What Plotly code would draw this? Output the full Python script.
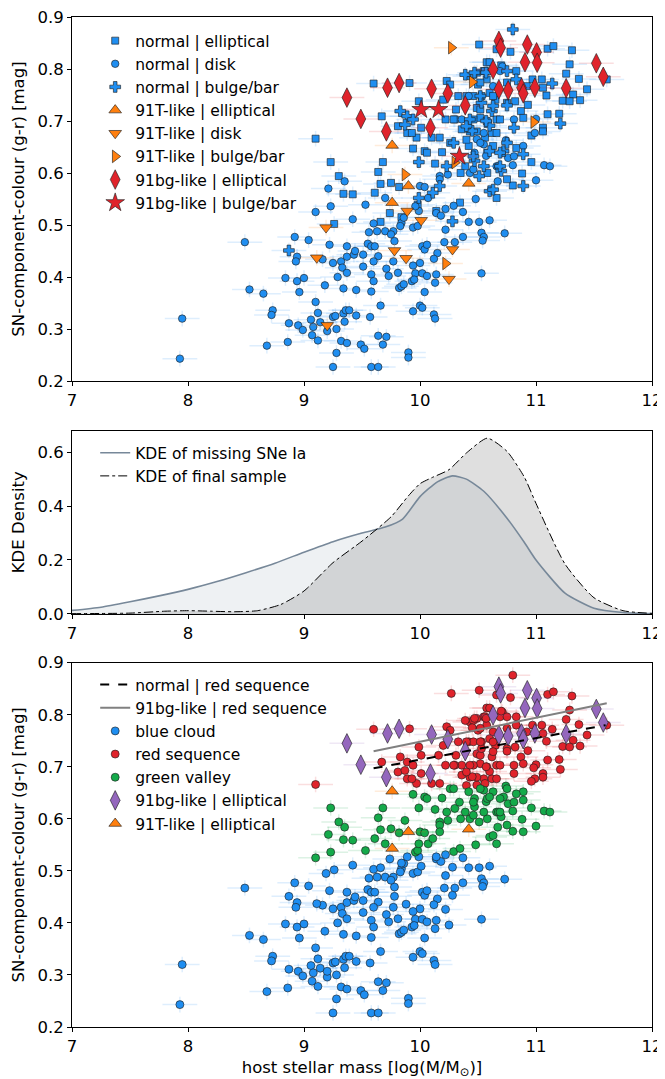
import plotly.graph_objects as go

# ---------------- data ----------------
# normal | elliptical  (class code for lower panel: R=red sequence, G=green valley, B=blue cloud)
ne_x = [9.34, 9.42, 9.61, 9.74, 9.66, 9.26, 9.66, 9.75, 9.98, 9.84, 10.14, 10.345, 10.66,
        10.51, 9.60, 9.91, 9.67, 10.23, 10.26, 10.33, 9.99, 10.20, 10.31, 10.49, 10.575, 10.66, 10.43, 10.49,
        10.55, 10.50, 10.575, 10.60, 10.53, 10.65, 10.46, 10.30, 10.22, 10.36, 9.94, 10.04, 10.19, 9.81, 9.89,
        9.97, 10.10, 10.17, 9.68, 9.23, 9.30, 9.64, 9.82, 10.06, 10.13, 10.39, 10.26, 10.42, 10.49, 10.56,
        10.62, 10.66, 10.52, 10.575, 9.93, 10.01, 9.10,
        10.78, 11.10, 11.15, 11.31, 11.29, 11.26, 11.37, 11.44, 11.61, 11.32, 11.23, 11.29, 11.38, 11.06,
        11.09, 10.97, 11.05, 10.83, 10.92, 10.82, 10.93, 10.87, 11.10, 11.20, 10.89, 11.06, 11.06, 10.96,
        10.83, 10.96, 10.88, 10.80, 10.75,
        10.29, 10.46, 10.69, 10.43, 10.66, 10.40, 10.63, 10.58, 10.52, 10.75, 10.56, 10.52, 10.75, 10.40,
        10.63, 10.58, 10.35, 10.60, 10.70, 10.46]
ne_y = [0.560, 0.559, 0.562, 0.523, 0.506, 0.502, 0.579, 0.581, 0.539, 0.515, 0.527, 0.543, 0.552,
        0.847, 0.772, 0.773, 0.709, 0.777, 0.770, 0.748, 0.738, 0.741, 0.722, 0.725, 0.813, 0.838, 0.786, 0.793,
        0.796, 0.770, 0.780, 0.754, 0.748, 0.741, 0.748, 0.703, 0.703, 0.684, 0.647, 0.642, 0.640, 0.690, 0.677,
        0.668, 0.668, 0.668, 0.621, 0.621, 0.594, 0.602, 0.573, 0.639, 0.618, 0.613, 0.658, 0.652, 0.680, 0.668,
        0.677, 0.703, 0.706, 0.700, 0.677, 0.687, 0.666,
        0.833, 0.839, 0.844, 0.836, 0.809, 0.791, 0.781, 0.761, 0.780, 0.751, 0.739, 0.738, 0.740, 0.764,
        0.749, 0.780, 0.780, 0.796, 0.767, 0.738, 0.731, 0.719, 0.713, 0.714, 0.706, 0.687, 0.680, 0.672,
        0.648, 0.621, 0.599, 0.576, 0.588,
        0.703, 0.703, 0.703, 0.680, 0.677, 0.664, 0.652, 0.639, 0.722, 0.735, 0.796, 0.774, 0.774, 0.748,
        0.748, 0.600, 0.600, 0.813, 0.807, 0.789]
ne_c = ("GGGBBBGGGBBGG" + "RRRRRRRRRRRRRRRRRRRRRRRRR" + "GGG" + "RRRRR" + "GGGGGGGGGG" + "RRRRRRRRR"
        + "RRRRRRRRRRRRRRRRRRRRRRRRRRRR" + "GGGGG" + "RRRRRRGGRRRRRRRGGRRR")

# normal | disk
nd_x = [8.49, 8.92, 9.04, 9.21, 9.35, 9.23, 9.10, 8.94, 8.93, 9.16, 9.22, 9.25, 9.32, 9.37, 9.37, 9.43,
        9.44, 9.51, 9.55, 9.58, 9.61, 9.64, 9.60, 9.33, 9.37, 9.29, 9.51, 9.58, 9.60, 9.71, 9.73, 9.81, 8.84,
        8.94, 9.00, 8.96, 9.18, 9.34, 9.45, 9.58, 8.53, 8.65, 9.10, 9.66, 8.73, 8.72, 9.12, 9.34, 9.36, 9.39,
        9.45, 9.57, 9.06, 9.25, 9.27, 9.35, 8.87, 8.95, 9.08, 9.14, 9.20, 9.28, 8.99, 9.07, 9.12, 9.32, 9.37,
        9.49, 9.52, 9.64, 9.71, 9.68, 8.86, 8.68, 9.28, 9.25, 9.58, 9.64, 7.95, 7.93, 9.77, 9.78, 9.77, 9.82,
        9.70, 9.75, 9.70, 9.56, 9.63, 9.60, 9.53, 9.42,
        9.84, 9.83, 9.86, 9.94, 9.98, 9.99, 9.96, 10.0, 10.04, 10.07, 10.14, 10.18, 10.22, 10.22, 10.29,
        10.37, 10.37, 10.42, 10.51, 10.60, 10.53, 10.55, 10.54, 10.21, 10.30, 10.02, 10.04, 10.06, 10.15,
        10.12, 10.0, 9.94, 9.96, 10.02, 10.06, 10.14, 10.13, 9.93, 9.95, 9.84, 9.86, 10.04, 10.53, 10.0,
        10.02, 9.94, 10.12, 10.13, 9.90, 9.90, 10.48,
        10.42, 10.36, 10.49, 10.55, 10.47, 10.57, 10.66, 10.43, 10.24, 10.17, 11.0, 10.99, 10.89, 10.74,
        10.80, 10.675, 11.07, 11.12, 11.0, 10.67, 10.71, 10.76, 10.73, 10.55, 10.81, 10.52, 10.81, 10.63,
        10.46, 10.17, 10.69]
nd_y = [0.467, 0.477, 0.471, 0.570, 0.584, 0.536, 0.525, 0.439, 0.430, 0.434, 0.462, 0.427, 0.430, 0.459,
        0.439, 0.443, 0.450, 0.443, 0.464, 0.459, 0.459, 0.440, 0.430, 0.418, 0.408, 0.400, 0.420, 0.405,
        0.392, 0.416, 0.402, 0.408, 0.398, 0.392, 0.398, 0.371, 0.384, 0.378, 0.375, 0.372, 0.376, 0.368,
        0.352, 0.345, 0.336, 0.327, 0.331, 0.330, 0.336, 0.336, 0.326, 0.323, 0.318, 0.323, 0.325, 0.314,
        0.311, 0.307, 0.304, 0.313, 0.296, 0.300, 0.298, 0.288, 0.278, 0.277, 0.273, 0.270, 0.262, 0.287,
        0.285, 0.270, 0.275, 0.268, 0.254, 0.227, 0.227, 0.227, 0.320, 0.243, 0.488, 0.469, 0.430, 0.379,
        0.488, 0.482, 0.552, 0.486, 0.488, 0.503, 0.539, 0.511,
        0.504, 0.498, 0.514, 0.495, 0.498, 0.527, 0.536, 0.575, 0.573, 0.552, 0.523, 0.518, 0.531, 0.491,
        0.537, 0.525, 0.477, 0.506, 0.506, 0.509, 0.485, 0.477, 0.470, 0.467, 0.467, 0.459, 0.453, 0.462,
        0.446, 0.435, 0.427, 0.422, 0.407, 0.407, 0.402, 0.405, 0.389, 0.392, 0.395, 0.382, 0.386, 0.371,
        0.407, 0.345, 0.341, 0.334, 0.328, 0.320, 0.255, 0.245, 0.550,
        0.748, 0.703, 0.665, 0.655, 0.639, 0.633, 0.613, 0.600, 0.597, 0.594, 0.704, 0.677, 0.652, 0.663,
        0.615, 0.613, 0.615, 0.613, 0.586, 0.584, 0.805, 0.629, 0.484, 0.677, 0.703, 0.658, 0.632, 0.767,
        0.607, 0.588, 0.796]
nd_c = ("BBBGGGG" + "B" * 79 + "G" + "BBB" + "G" + "B"
        + "BBBBBB" + "GGGG" + "BBBB" + "G" + "B" * 35 + "G"
        + "RRR" + "GGGGGGG" + "RR" + "GGGGGGGG" + "R" + "G" + "B" + "RRGGRGGR")

# normal | bulge/bar
nb_x = [8.87, 9.99, 10.11, 10.17, 10.28, 10.60, 10.39, 10.47, 10.57, 9.83, 9.89, 9.87, 9.94, 10.43, 10.53,
        10.62, 10.45, 10.60, 9.99, 10.47, 10.55, 10.60, 10.51, 10.63, 10.80, 11.14, 10.75, 10.83, 10.75,
        10.81, 11.21, 10.72, 10.89, 10.89, 10.70, 10.40, 10.57, 10.75, 10.46, 10.69, 10.63, 10.52, 10.69,
        10.23, 10.29]
nb_y = [0.451, 0.552, 0.562, 0.575, 0.507, 0.565, 0.789, 0.793, 0.793, 0.719, 0.709, 0.693, 0.703, 0.703,
        0.735, 0.719, 0.681, 0.691, 0.621, 0.623, 0.613, 0.642, 0.594, 0.568, 0.876, 0.772, 0.796, 0.780,
        0.730, 0.687, 0.695, 0.642, 0.636, 0.575, 0.604, 0.690, 0.700, 0.658, 0.632, 0.639, 0.729, 0.748,
        0.613, 0.613, 0.658]
nb_c = "BGGGBG" + "R" * 12 + "G" * 6 + "R" * 7 + "GGGG" + "RR" + "GGG" + "RR" + "GGG"

# 91T-like
te_x = [9.76, 9.76, 9.90, 10.42]
te_y = [0.653, 0.543, 0.575, 0.580]
td_x = [9.19, 9.11, 9.20, 9.78, 9.89, 9.88, 10.01, 10.28, 10.25]
td_y = [0.495, 0.437, 0.307, 0.451, 0.527, 0.436, 0.509, 0.453, 0.396]
td_c = "BBBBBBBBB"
tb_x = [10.27, 10.45, 10.30, 9.87, 10.22, 10.98]
tb_y = [0.841, 0.775, 0.620, 0.597, 0.426, 0.698]
tb_c = "RRGGBR"

# 91bg-like
be_x = [9.37, 9.49, 9.72, 9.82, 9.71, 10.10, 10.24, 10.39, 10.09, 10.63, 10.68, 10.68, 10.695, 10.925,
        11.005, 10.905, 11.01, 10.76, 10.875, 10.89, 10.99, 11.26, 11.52, 11.58]
be_y = [0.745, 0.704, 0.764, 0.773, 0.680, 0.762, 0.753, 0.730, 0.687, 0.799, 0.854, 0.761, 0.841, 0.847,
        0.832, 0.813, 0.812, 0.759, 0.764, 0.753, 0.764, 0.763, 0.811, 0.785]
bb_x = [10.01, 10.16, 10.34]
bb_y = [0.722, 0.722, 0.632]
bb_c = "RRG"

# red-sequence fits (end points)
fit_norm_x = [9.60, 11.60]
fit_norm_y = [0.697, 0.780]
fit_bg_x = [9.60, 11.61]
fit_bg_y = [0.730, 0.822]

# KDE curves
miss_x = [7.0, 7.25, 7.5, 7.75, 8.0, 8.25, 8.5, 8.75, 9.0, 9.25, 9.5, 9.7, 9.85, 10.0, 10.15, 10.28,
          10.4, 10.55, 10.75, 10.9, 11.0, 11.25, 11.5, 11.75, 12.0]
miss_y = [0.013, 0.025, 0.045, 0.067, 0.091, 0.120, 0.153, 0.188, 0.229, 0.268, 0.300, 0.322, 0.352,
          0.435, 0.490, 0.512, 0.500, 0.455, 0.355, 0.265, 0.200, 0.077, 0.021, 0.005, 0.001]
fin_x = [7.0, 7.5, 7.8, 8.0, 8.2, 8.4, 8.6, 8.8, 9.0, 9.25, 9.5, 9.75, 9.9, 10.0, 10.1, 10.25, 10.4,
         10.58, 10.75, 10.9, 11.0, 11.25, 11.5, 11.75, 12.0]
fin_y = [0.001, 0.003, 0.010, 0.012, 0.010, 0.008, 0.012, 0.035, 0.085, 0.190, 0.270, 0.360, 0.438,
         0.483, 0.505, 0.535, 0.597, 0.652, 0.603, 0.507, 0.410, 0.185, 0.060, 0.012, 0.002]

x_ticks = [7, 8, 9, 10, 11, 12]
col_ticks = [0.2, 0.3, 0.4, 0.5, 0.6, 0.7, 0.8, 0.9]
kde_ticks = [0.0, 0.2, 0.4, 0.6]

for xs, ys, cs in [(ne_x, ne_y, ne_c), (nd_x, nd_y, nd_c), (nb_x, nb_y, nb_c), (td_x, td_y, td_c),
                   (tb_x, tb_y, tb_c), (bb_x, bb_y, bb_c)]:
    assert len(xs) == len(ys) == len(cs), (len(xs), len(ys), len(cs))

# ---------------- styling ----------------
FONT = "DejaVu Sans"
FS = 16.5
LFS = 15.5
BLUE = "#1f8ef1"
ORANGE = "#ff7f0e"
RED = "#e0232b"
GREEN = "#14aa4a"
PURPLE = "#9467bd"
EDGE = dict(color="rgba(30,30,30,0.9)", width=0.7)


def rgba(hexc, a):
    h = hexc.lstrip("#")
    return "rgba(%d,%d,%d,%.2f)" % (int(h[0:2], 16), int(h[2:4], 16), int(h[4:6], 16), a)


def errs(col):
    ex = dict(type="constant", value=0.15, color=rgba(col, 0.15), thickness=1.5, width=0)
    ey = dict(type="constant", value=0.015, color=rgba(col, 0.15), thickness=1.5, width=0)
    return ex, ey


def pts(x, y, name, symbol, size, col, xa, ya, legend, rank=None):
    ex, ey = errs(col)
    kw = {}
    if rank is not None:
        kw["legendrank"] = rank
    return go.Scatter(x=x, y=y, mode="markers", name=name, xaxis=xa, yaxis=ya, legend=legend,
                      marker=dict(symbol=symbol, size=size, color=col, line=EDGE),
                      error_x=ex, error_y=ey, **kw)


fig = go.Figure()

# ---- top panel ----
fig.add_trace(pts(ne_x, ne_y, "normal | elliptical", "square", 7, BLUE, "x", "y", "legend"))
fig.add_trace(pts(nd_x, nd_y, "normal | disk", "circle", 7.5, BLUE, "x", "y", "legend"))
fig.add_trace(pts(nb_x, nb_y, "normal | bulge/bar", "cross", 9, BLUE, "x", "y", "legend"))
fig.add_trace(pts(te_x, te_y, "91T-like | elliptical", "triangle-up", 11, ORANGE, "x", "y", "legend"))
fig.add_trace(pts(td_x, td_y, "91T-like | disk", "triangle-down", 11, ORANGE, "x", "y", "legend"))
fig.add_trace(pts(tb_x, tb_y, "91T-like | bulge/bar", "triangle-right", 11, ORANGE, "x", "y", "legend"))
fig.add_trace(pts(be_x, be_y, "91bg-like | elliptical", "diamond-tall", 14, RED, "x", "y", "legend"))
fig.add_trace(pts(bb_x, bb_y, "91bg-like | bulge/bar", "star", 14, RED, "x", "y", "legend"))

# ---- middle panel (KDE) ----
fig.add_trace(go.Scatter(x=miss_x, y=miss_y, mode="lines", fill="tozeroy",
                         line=dict(width=0, shape="spline", smoothing=0.6),
                         fillcolor="rgba(119,136,153,0.12)", showlegend=False, hoverinfo="skip",
                         xaxis="x2", yaxis="y2"))
fig.add_trace(go.Scatter(x=fin_x, y=fin_y, mode="lines", fill="tozeroy",
                         line=dict(width=0, shape="spline", smoothing=0.6),
                         fillcolor="rgba(128,128,128,0.25)", showlegend=False, hoverinfo="skip",
                         xaxis="x2", yaxis="y2"))
fig.add_trace(go.Scatter(x=miss_x, y=miss_y, mode="lines", name="KDE of missing SNe Ia",
                         line=dict(color="#778899", width=1.6, shape="spline", smoothing=0.6),
                         xaxis="x2", yaxis="y2", legend="legend2"))
fig.add_trace(go.Scatter(x=fin_x, y=fin_y, mode="lines", name="KDE of final sample",
                         line=dict(color="black", width=1, dash="dashdot", shape="spline", smoothing=0.6),
                         xaxis="x2", yaxis="y2", legend="legend2"))

# ---- bottom panel ----
circ_x = nd_x + ne_x + nb_x + td_x + tb_x + bb_x
circ_y = nd_y + ne_y + nb_y + td_y + tb_y + bb_y
circ_c = nd_c + ne_c + nb_c + td_c + tb_c + bb_c
for code, name, col, rank in [("B", "blue cloud", BLUE, 3), ("R", "red sequence", RED, 4),
                              ("G", "green valley", GREEN, 5)]:
    xs = [xv for xv, cv in zip(circ_x, circ_c) if cv == code]
    ys = [yv for yv, cv in zip(circ_y, circ_c) if cv == code]
    fig.add_trace(pts(xs, ys, name, "circle", 8, col, "x3", "y3", "legend3", rank))
fig.add_trace(pts(be_x, be_y, "91bg-like | elliptical", "diamond-tall", 14, PURPLE, "x3", "y3", "legend3", 6))
fig.add_trace(pts(te_x, te_y, "91T-like | elliptical", "triangle-up", 11, ORANGE, "x3", "y3", "legend3", 7))
fig.add_trace(go.Scatter(x=fit_norm_x, y=fit_norm_y, mode="lines", name="normal | red sequence",
                         line=dict(color="black", width=2, dash="dash"), xaxis="x3", yaxis="y3",
                         legend="legend3", legendrank=1))
fig.add_trace(go.Scatter(x=fit_bg_x, y=fit_bg_y, mode="lines", name="91bg-like | red sequence",
                         line=dict(color="#808080", width=2), xaxis="x3", yaxis="y3",
                         legend="legend3", legendrank=2))

# ---------------- layout ----------------
axis_common = dict(showline=True, linecolor="black", linewidth=1, mirror=True, ticks="outside",
                   ticklen=4, tickwidth=1, tickcolor="black", showgrid=False, zeroline=False,
                   automargin=False, ticklabeloverflow="allow",
                   tickfont=dict(family=FONT, size=FS, color="black"))

ytitle = "SN-component-colour (g-r) [mag]"
leg_common = dict(xanchor="left", yanchor="top", bgcolor="rgba(0,0,0,0)",
                  font=dict(family=FONT, size=LFS), tracegroupgap=0)
# the page body adds an 8 px offset, so the figure is made 8 px smaller to fill the window exactly
fig.update_layout(
    width=657, height=1071,
    margin=dict(l=64, r=13, t=9, b=52, autoexpand=False),
    paper_bgcolor="white", plot_bgcolor="white",
    font=dict(family=FONT, size=FS, color="black"),
    xaxis=dict(domain=[0, 1], anchor="y", range=[7, 12], tickvals=x_ticks, **axis_common),
    yaxis=dict(domain=[0.6396, 1.0], anchor="x", range=[0.2, 0.9], tickvals=col_ticks, tickformat=".1f",
               title=dict(text=ytitle, standoff=8, font=dict(family=FONT, size=FS)), **axis_common),
    xaxis2=dict(domain=[0, 1], anchor="y2", range=[7, 12], tickvals=x_ticks, **axis_common),
    yaxis2=dict(domain=[0.409, 0.5905], anchor="x2", range=[0, 0.68], tickvals=kde_ticks, tickformat=".1f",
                title=dict(text="KDE Density", standoff=8, font=dict(family=FONT, size=FS)), **axis_common),
    xaxis3=dict(domain=[0, 1], anchor="y3", range=[7, 12], tickvals=x_ticks,
                title=dict(text="host stellar mass [log(M/M<sub>⊙</sub>)]", standoff=8,
                           font=dict(family=FONT, size=FS)), **axis_common),
    yaxis3=dict(domain=[0, 0.3607], anchor="x3", range=[0.2, 0.9], tickvals=col_ticks, tickformat=".1f",
                title=dict(text=ytitle, standoff=8, font=dict(family=FONT, size=FS)), **axis_common),
    legend=dict(x=0.04, y=0.993, **leg_common),
    legend2=dict(x=0.04, y=0.585, **leg_common),
    legend3=dict(x=0.04, y=0.3554, traceorder="normal", **leg_common),
    showlegend=True,
)

fig.write_html("out.html")
